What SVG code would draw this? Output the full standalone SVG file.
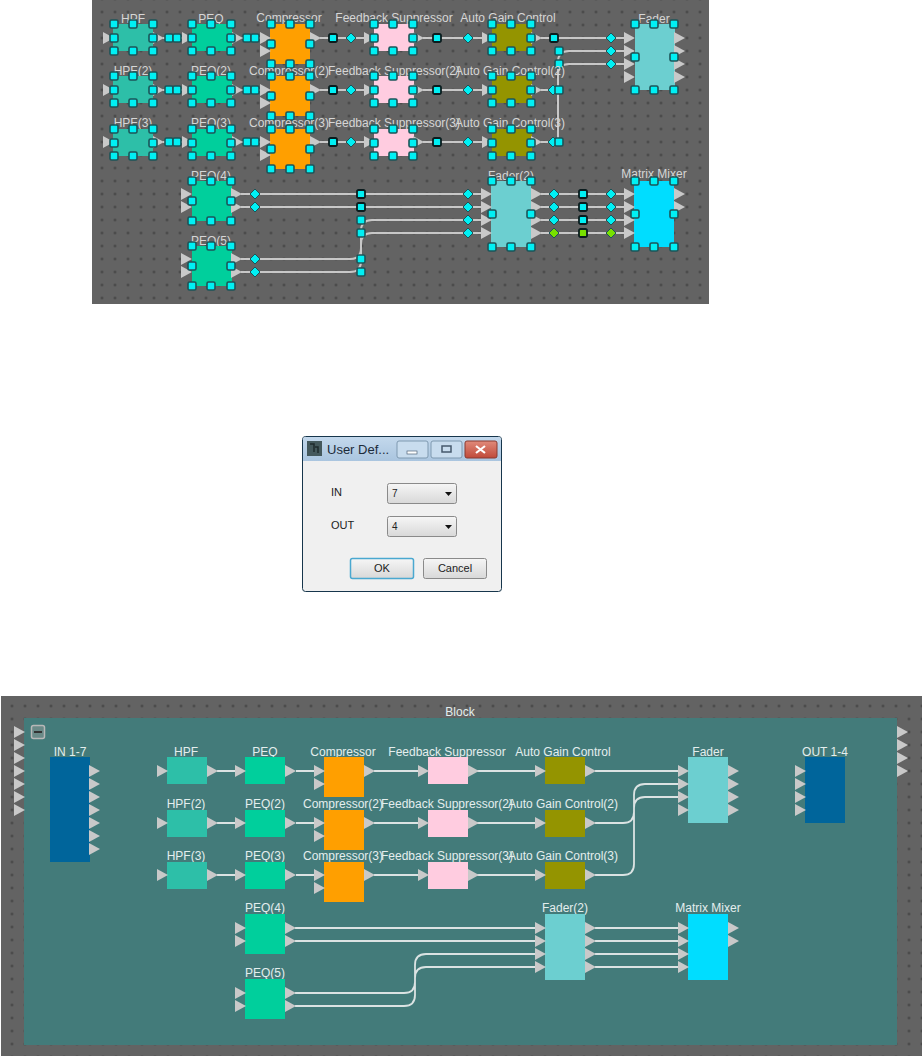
<svg xmlns="http://www.w3.org/2000/svg" width="922" height="1056" viewBox="0 0 922 1056">
<style>
text{font-family:"Liberation Sans",Arial,sans-serif}
.l{font-size:12px;text-anchor:middle}
.lt{fill:#d6d6d6}
.lb{fill:#e4eeee}
.w{fill:none;stroke:#c8c8c8;stroke-width:2}
.wb{fill:none;stroke:#dbe3e3;stroke-width:1.8}
.d{font-size:11px;fill:#222}
.hpf{fill:#2dbfa8}.peq{fill:#00cf9c}.comp{fill:#ff9f00}.fs{fill:#ffcce0}.agc{fill:#949400}.fader{fill:#6ccfd0}.mx{fill:#00ddff}.io{fill:#00659b}
</style>
<defs>
<pattern id="dots" x="4.5" y="5.5" width="13" height="13" patternUnits="userSpaceOnUse"><rect x="5.5" y="5.5" width="2" height="2" fill="#3a3a3a"/></pattern>
<pattern id="dots2" x="5.5" y="699.5" width="13" height="13" patternUnits="userSpaceOnUse"><rect x="5.5" y="5.5" width="2" height="2" fill="#3a3a3a"/></pattern>
<polygon id="p" points="0,-6 11,0 0,6" fill="#c9c9c9"/>
<rect id="h" x="-4" y="-4" width="8" height="8" rx="1.500" fill="#00f0f4" stroke="#1c5458" stroke-width="1.600"/>
<rect id="hk" x="-4" y="-4" width="8" height="8" rx="1.500" fill="#00f0f4" stroke="#0a1c1e" stroke-width="1.800"/>
<polygon id="di" points="0,-5 5,0 0,5 -5,0" fill="#00f0f4" stroke="#1c5458" stroke-width="1"/>
<rect id="hg" x="-4" y="-4" width="8" height="8" rx="1.500" fill="#78e000" stroke="#0a1c1e" stroke-width="1.800"/>
<polygon id="dg" points="0,-5 5,0 0,5 -5,0" fill="#78e000" stroke="#1c5458" stroke-width="1"/>
<g id="h27"><use href="#h" x="1"/><use href="#h" x="20"/><use href="#h" x="40"/><use href="#h" x="1" y="14"/><use href="#h" x="40" y="14"/><use href="#h" x="1" y="27"/><use href="#h" x="20" y="27"/><use href="#h" x="40" y="27"/></g>
<g id="h40"><use href="#h" x="1"/><use href="#h" x="20"/><use href="#h" x="40"/><use href="#h" x="1" y="20"/><use href="#h" x="40" y="20"/><use href="#h" x="1" y="40"/><use href="#h" x="20" y="40"/><use href="#h" x="40" y="40"/></g>
<g id="h66"><use href="#h" x="1"/><use href="#h" x="20"/><use href="#h" x="40"/><use href="#h" x="1" y="33"/><use href="#h" x="40" y="33"/><use href="#h" x="1" y="66"/><use href="#h" x="20" y="66"/><use href="#h" x="40" y="66"/></g>
<linearGradient id="tb" x1="0" y1="0" x2="0" y2="1"><stop offset="0" stop-color="#c3d8ec"/><stop offset="1" stop-color="#aac5df"/></linearGradient>
<linearGradient id="cb" x1="0" y1="0" x2="0" y2="1"><stop offset="0" stop-color="#f6f6f6"/><stop offset="1" stop-color="#d8d8d8"/></linearGradient>
<linearGradient id="rb" x1="0" y1="0" x2="0" y2="1"><stop offset="0" stop-color="#e08a7a"/><stop offset="1" stop-color="#c04a3a"/></linearGradient>
</defs>
<rect width="922" height="1056" fill="#fff"/>

<g id="top-panel"><rect x="92" y="0" width="617" height="304" fill="#636363"/><rect x="92" y="0" width="617" height="304" fill="url(#dots)"/></g>
<g id="top-connectors">
<path class="w" d="M163 38H182M242 38H260M320 38H364M423 38H482M541 38H625M163 90H182M242 90H260M320 90H364M423 90H482M541 90H559M163 142H182M242 142H260M320 142H364M423 142H482M541 142H559"/>
<path class="w" d="M558 90V62Q558 51 569 51H625M558 142V75Q558 64 569 64H625"/>
<path class="w" d="M241 194H481M241 207H481M241 259H350Q361 259 361 248V231Q361 220 372 220H481M241 272H350Q361 272 361 261V244Q361 233 372 233H481"/>
<path class="w" d="M541 194H624M541 207H624M541 220H624M541 233H624"/>
<use href="#h" x="169" y="38"/><use href="#h" x="177" y="38"/><use href="#h" x="247" y="38"/><use href="#h" x="255" y="38"/><use href="#hk" x="333" y="38"/><use href="#di" x="351" y="38"/><use href="#hk" x="437" y="38"/><use href="#di" x="468" y="38"/><use href="#hk" x="554" y="38"/>
<use href="#h" x="169" y="90"/><use href="#h" x="177" y="90"/><use href="#h" x="247" y="90"/><use href="#h" x="255" y="90"/><use href="#hk" x="333" y="90"/><use href="#di" x="351" y="90"/><use href="#hk" x="437" y="90"/><use href="#di" x="468" y="90"/><use href="#di" x="553" y="90"/><use href="#h" x="559" y="90"/>
<use href="#h" x="169" y="142"/><use href="#h" x="177" y="142"/><use href="#h" x="247" y="142"/><use href="#h" x="255" y="142"/><use href="#hk" x="333" y="142"/><use href="#di" x="351" y="142"/><use href="#hk" x="437" y="142"/><use href="#di" x="468" y="142"/><use href="#di" x="553" y="142"/><use href="#h" x="559" y="142"/>
<use href="#h" x="559" y="51"/><use href="#h" x="559" y="64"/><use href="#di" x="611" y="38"/><use href="#di" x="611" y="51"/><use href="#di" x="611" y="64"/>
<use href="#di" x="255" y="194"/><use href="#di" x="255" y="207"/><use href="#di" x="255" y="259"/><use href="#di" x="255" y="272"/>
<use href="#hk" x="361" y="194"/><use href="#hk" x="361" y="207"/><use href="#h" x="361" y="220"/><use href="#h" x="361" y="233"/><use href="#h" x="361" y="259"/><use href="#h" x="361" y="272"/>
<use href="#di" x="468" y="194"/><use href="#di" x="468" y="207"/><use href="#di" x="468" y="220"/><use href="#di" x="468" y="233"/>
<use href="#di" x="554" y="194"/><use href="#di" x="554" y="207"/><use href="#di" x="554" y="220"/><use href="#dg" x="554" y="233"/>
<use href="#hk" x="583" y="194"/><use href="#hk" x="583" y="207"/><use href="#hk" x="583" y="220"/><use href="#hg" x="583" y="233"/>
<use href="#di" x="611" y="194"/><use href="#di" x="611" y="207"/><use href="#di" x="611" y="220"/><use href="#dg" x="611" y="233"/>
</g>
<g id="t-hpf"><text class="l lt" x="133" y="23">HPF</text><rect class="hpf" x="113" y="24" width="40" height="27"/><use href="#p" x="103" y="38"/><use href="#p" x="153" y="38"/><use href="#h27" x="113" y="24"/></g>
<g id="t-peq"><text class="l lt" x="211" y="23">PEQ</text><rect class="peq" x="192" y="24" width="40" height="27"/><use href="#p" x="182" y="38"/><use href="#p" x="232" y="38"/><use href="#h27" x="191" y="24"/></g>
<g id="t-comp"><text class="l lt" x="289" y="22">Compressor</text><rect class="comp" x="270" y="24" width="40" height="40"/><use href="#p" x="260" y="38"/><use href="#p" x="260" y="51"/><use href="#p" x="310" y="38"/><use href="#h40" x="270" y="24"/></g>
<g id="t-fs"><text class="l lt" x="394" y="22">Feedback Suppressor</text><rect class="fs" x="374" y="24" width="40" height="27"/><use href="#p" x="364" y="38"/><use href="#p" x="413" y="38"/><use href="#h27" x="373" y="24"/></g>
<g id="t-agc"><text class="l lt" x="508" y="22">Auto Gain Control</text><rect class="agc" x="492" y="24" width="40" height="27"/><use href="#p" x="482" y="38"/><use href="#p" x="531" y="38"/><use href="#h27" x="491" y="24"/></g>
<g id="t-fader"><text class="l lt" x="654" y="23">Fader</text><rect class="fader" x="635" y="24" width="40" height="66"/><use href="#p" x="624" y="38"/><use href="#p" x="624" y="51"/><use href="#p" x="624" y="64"/><use href="#p" x="624" y="77"/><use href="#p" x="674" y="38"/><use href="#p" x="674" y="51"/><use href="#p" x="674" y="64"/><use href="#p" x="674" y="77"/><use href="#h66" x="634" y="24"/></g>

<g id="t-hpf2"><text class="l lt" x="133" y="75">HPF(2)</text><rect class="hpf" x="113" y="76" width="40" height="27"/><use href="#p" x="103" y="90"/><use href="#p" x="153" y="90"/><use href="#h27" x="113" y="76"/></g>
<g id="t-peq2"><text class="l lt" x="211" y="75">PEQ(2)</text><rect class="peq" x="192" y="76" width="40" height="27"/><use href="#p" x="182" y="90"/><use href="#p" x="232" y="90"/><use href="#h27" x="191" y="76"/></g>
<g id="t-comp2"><rect class="comp" x="270" y="76" width="40" height="40"/><text class="l lt" x="289" y="75">Compressor(2)</text><use href="#p" x="260" y="90"/><use href="#p" x="260" y="103"/><use href="#p" x="310" y="90"/><use href="#h40" x="270" y="76"/></g>
<g id="t-fs2"><text class="l lt" x="394" y="75">Feedback Suppressor(2)</text><rect class="fs" x="374" y="76" width="40" height="27"/><use href="#p" x="364" y="90"/><use href="#p" x="413" y="90"/><use href="#h27" x="373" y="76"/></g>
<g id="t-agc2"><text class="l lt" x="510" y="75">Auto Gain Control(2)</text><rect class="agc" x="492" y="76" width="40" height="27"/><use href="#p" x="482" y="90"/><use href="#p" x="531" y="90"/><use href="#h27" x="491" y="76"/></g>

<g id="t-hpf3"><text class="l lt" x="133" y="127">HPF(3)</text><rect class="hpf" x="113" y="129" width="40" height="27"/><use href="#p" x="103" y="142"/><use href="#p" x="153" y="142"/><use href="#h27" x="113" y="129"/></g>
<g id="t-peq3"><text class="l lt" x="211" y="127">PEQ(3)</text><rect class="peq" x="192" y="129" width="40" height="27"/><use href="#p" x="182" y="142"/><use href="#p" x="232" y="142"/><use href="#h27" x="191" y="129"/></g>
<g id="t-comp3"><rect class="comp" x="270" y="129" width="40" height="40"/><text class="l lt" x="289" y="127">Compressor(3)</text><use href="#p" x="260" y="142"/><use href="#p" x="260" y="155"/><use href="#p" x="310" y="142"/><use href="#h40" x="270" y="129"/></g>
<g id="t-fs3"><text class="l lt" x="394" y="127">Feedback Suppressor(3)</text><rect class="fs" x="374" y="129" width="40" height="27"/><use href="#p" x="364" y="142"/><use href="#p" x="413" y="142"/><use href="#h27" x="373" y="129"/></g>
<g id="t-agc3"><text class="l lt" x="510" y="127">Auto Gain Control(3)</text><rect class="agc" x="492" y="129" width="40" height="27"/><use href="#p" x="482" y="142"/><use href="#p" x="531" y="142"/><use href="#h27" x="491" y="129"/></g>

<g id="t-peq4"><text class="l lt" x="211" y="180">PEQ(4)</text><rect class="peq" x="192" y="181" width="40" height="40"/><use href="#p" x="181" y="194"/><use href="#p" x="181" y="207"/><use href="#p" x="231" y="194"/><use href="#p" x="231" y="207"/><use href="#h40" x="191" y="181"/></g>
<g id="t-peq5"><text class="l lt" x="211" y="245">PEQ(5)</text><rect class="peq" x="192" y="246" width="40" height="40"/><use href="#p" x="181" y="259"/><use href="#p" x="181" y="272"/><use href="#p" x="231" y="259"/><use href="#p" x="231" y="272"/><use href="#h40" x="191" y="246"/></g>
<g id="t-fader2"><text class="l lt" x="511" y="180">Fader(2)</text><rect class="fader" x="491" y="181" width="40" height="66"/><use href="#p" x="481" y="194"/><use href="#p" x="481" y="207"/><use href="#p" x="481" y="220"/><use href="#p" x="481" y="233"/><use href="#p" x="531" y="194"/><use href="#p" x="531" y="207"/><use href="#p" x="531" y="220"/><use href="#p" x="531" y="233"/><use href="#h66" x="491" y="181"/></g>
<g id="t-matrix"><text class="l lt" x="654" y="178">Matrix Mixer</text><rect class="mx" x="634" y="181" width="40" height="66"/><use href="#p" x="624" y="194"/><use href="#p" x="624" y="207"/><use href="#p" x="624" y="220"/><use href="#p" x="624" y="233"/><use href="#p" x="674" y="194"/><use href="#p" x="674" y="207"/><use href="#h66" x="634" y="181"/></g>

<g id="dialog">
<rect x="302.500" y="436.500" width="199" height="155" rx="3" fill="#f0f0f0" stroke="#17364c"/>
<path d="M303 461V439Q303 437 305 437H499Q501 437 501 439V461Z" fill="url(#tb)"/>
<rect x="307" y="441" width="15" height="15" fill="#44585c"/>
<path d="M310 444h4v8M315 447h3v6" fill="none" stroke="#1e2a2c" stroke-width="1.500"/>
<text x="327" y="454" font-size="13" fill="#1c2b3a">User Def...</text>
<rect x="397" y="441" width="31" height="17" rx="2" fill="#c8dcee" stroke="#7f99b0"/><rect x="407" y="451" width="10" height="3" fill="#fff" stroke="#50647a" stroke-width=".7"/>
<rect x="431" y="441" width="31" height="17" rx="2" fill="#c8dcee" stroke="#7f99b0"/><rect x="442" y="446" width="9" height="6" fill="none" stroke="#45586c" stroke-width="1.500"/>
<rect x="465" y="441" width="32" height="17" rx="2" fill="url(#rb)" stroke="#8a3a30"/><path d="M476 446l9 7M485 446l-9 7" stroke="#fff" stroke-width="2.200"/>
<text class="d" x="331" y="496">IN</text>
<text class="d" x="331" y="529">OUT</text>
<rect x="387.500" y="483.500" width="69" height="20" rx="2" fill="url(#cb)" stroke="#8a8a8a"/><text x="392" y="497" font-size="10" fill="#222">7</text><path d="M445 492h7l-3.500 4z" fill="#111"/>
<rect x="387.500" y="516.500" width="69" height="20" rx="2" fill="url(#cb)" stroke="#8a8a8a"/><text x="392" y="530" font-size="10" fill="#222">4</text><path d="M445 525h7l-3.500 4z" fill="#111"/>
<rect x="350.500" y="558.500" width="63" height="20" rx="2" fill="url(#cb)" stroke="#4aa8d0" stroke-width="1.500"/><text x="382" y="572" font-size="11" fill="#222" text-anchor="middle">OK</text>
<rect x="423.500" y="558.500" width="63" height="20" rx="2" fill="url(#cb)" stroke="#8a8a8a"/><text x="455" y="572" font-size="11" fill="#222" text-anchor="middle">Cancel</text>
</g>

<g id="block">
<rect x="1" y="696" width="921" height="360" fill="#636363"/><rect x="1" y="696" width="921" height="360" fill="url(#dots2)"/>
<rect x="24" y="718" width="873" height="327" fill="#437b7a"/>
<text class="l lb" x="460" y="716">Block</text>
<rect x="31.500" y="725.500" width="13" height="13" rx="2" fill="#6a8a88" stroke="#b8b8b8" stroke-width="1.500"/><rect x="34" y="731" width="8" height="2" fill="#333"/>
<use href="#p" x="14" y="732"/><use href="#p" x="14" y="745"/><use href="#p" x="14" y="758"/><use href="#p" x="14" y="771"/><use href="#p" x="14" y="784"/><use href="#p" x="14" y="797"/><use href="#p" x="14" y="810"/>
<use href="#p" x="897" y="732"/><use href="#p" x="897" y="745"/><use href="#p" x="897" y="758"/><use href="#p" x="897" y="771"/>
</g>
<g id="block-connectors">
<path class="wb" d="M217 771H236M296 771H314M374 771H418M477 771H535M595 771H678M217 823H236M296 823H314M374 823H418M477 823H535M217 875H236M296 875H314M374 875H418M477 875H535"/>
<path class="wb" d="M595 823H623Q634 823 634 812V795Q634 784 645 784H678M595 875H623Q634 875 634 864V808Q634 797 645 797H678"/>
<path class="wb" d="M295 928H535M295 941H535M295 993H404Q415 993 415 982V965Q415 954 426 954H535M295 1006H404Q415 1006 415 995V978Q415 967 426 967H535"/>
<path class="wb" d="M595 928H678M595 941H678M595 954H678M595 967H678"/>
</g>
<g id="b-in"><text class="l lb" x="70" y="756">IN 1-7</text><rect class="io" x="50" y="757" width="40" height="105"/><use href="#p" x="89" y="771"/><use href="#p" x="89" y="784"/><use href="#p" x="89" y="797"/><use href="#p" x="89" y="810"/><use href="#p" x="89" y="823"/><use href="#p" x="89" y="836"/><use href="#p" x="89" y="849"/></g>
<g id="b-out"><text class="l lb" x="825" y="756">OUT 1-4</text><rect class="io" x="805" y="757" width="40" height="66"/><use href="#p" x="795" y="771"/><use href="#p" x="795" y="784"/><use href="#p" x="795" y="797"/><use href="#p" x="795" y="810"/></g>
<g id="b-hpf"><text class="l lb" x="186" y="756">HPF</text><rect class="hpf" x="167" y="757" width="40" height="27"/><use href="#p" x="157" y="771"/><use href="#p" x="207" y="771"/></g>
<g id="b-peq"><text class="l lb" x="265" y="756">PEQ</text><rect class="peq" x="245" y="757" width="40" height="27"/><use href="#p" x="235" y="771"/><use href="#p" x="285" y="771"/></g>
<g id="b-comp"><text class="l lb" x="343" y="756">Compressor</text><rect class="comp" x="324" y="757" width="40" height="40"/><use href="#p" x="314" y="771"/><use href="#p" x="314" y="784"/><use href="#p" x="364" y="771"/></g>
<g id="b-fs"><text class="l lb" x="447" y="756">Feedback Suppressor</text><rect class="fs" x="428" y="757" width="40" height="27"/><use href="#p" x="418" y="771"/><use href="#p" x="468" y="771"/></g>
<g id="b-agc"><text class="l lb" x="563" y="756">Auto Gain Control</text><rect class="agc" x="545" y="757" width="40" height="27"/><use href="#p" x="535" y="771"/><use href="#p" x="585" y="771"/></g>
<g id="b-fader"><text class="l lb" x="708" y="756">Fader</text><rect class="fader" x="688" y="757" width="40" height="66"/><use href="#p" x="678" y="771"/><use href="#p" x="678" y="784"/><use href="#p" x="678" y="797"/><use href="#p" x="678" y="810"/><use href="#p" x="728" y="771"/><use href="#p" x="728" y="784"/><use href="#p" x="728" y="797"/><use href="#p" x="728" y="810"/></g>

<g id="b-hpf2"><text class="l lb" x="186" y="808">HPF(2)</text><rect class="hpf" x="167" y="810" width="40" height="27"/><use href="#p" x="157" y="823"/><use href="#p" x="207" y="823"/></g>
<g id="b-peq2"><text class="l lb" x="265" y="808">PEQ(2)</text><rect class="peq" x="245" y="810" width="40" height="27"/><use href="#p" x="235" y="823"/><use href="#p" x="285" y="823"/></g>
<g id="b-comp2"><text class="l lb" x="343" y="808">Compressor(2)</text><rect class="comp" x="324" y="810" width="40" height="40"/><use href="#p" x="314" y="823"/><use href="#p" x="314" y="836"/><use href="#p" x="364" y="823"/></g>
<g id="b-fs2"><text class="l lb" x="447" y="808">Feedback Suppressor(2)</text><rect class="fs" x="428" y="810" width="40" height="27"/><use href="#p" x="418" y="823"/><use href="#p" x="468" y="823"/></g>
<g id="b-agc2"><text class="l lb" x="563" y="808">Auto Gain Control(2)</text><rect class="agc" x="545" y="810" width="40" height="27"/><use href="#p" x="535" y="823"/><use href="#p" x="585" y="823"/></g>

<g id="b-hpf3"><text class="l lb" x="186" y="860">HPF(3)</text><rect class="hpf" x="167" y="862" width="40" height="27"/><use href="#p" x="157" y="875"/><use href="#p" x="207" y="875"/></g>
<g id="b-peq3"><text class="l lb" x="265" y="860">PEQ(3)</text><rect class="peq" x="245" y="862" width="40" height="27"/><use href="#p" x="235" y="875"/><use href="#p" x="285" y="875"/></g>
<g id="b-comp3"><text class="l lb" x="343" y="860">Compressor(3)</text><rect class="comp" x="324" y="862" width="40" height="40"/><use href="#p" x="314" y="875"/><use href="#p" x="314" y="888"/><use href="#p" x="364" y="875"/></g>
<g id="b-fs3"><text class="l lb" x="447" y="860">Feedback Suppressor(3)</text><rect class="fs" x="428" y="862" width="40" height="27"/><use href="#p" x="418" y="875"/><use href="#p" x="468" y="875"/></g>
<g id="b-agc3"><text class="l lb" x="563" y="860">Auto Gain Control(3)</text><rect class="agc" x="545" y="862" width="40" height="27"/><use href="#p" x="535" y="875"/><use href="#p" x="585" y="875"/></g>

<g id="b-peq4"><text class="l lb" x="265" y="912">PEQ(4)</text><rect class="peq" x="245" y="914" width="40" height="40"/><use href="#p" x="235" y="928"/><use href="#p" x="235" y="941"/><use href="#p" x="285" y="928"/><use href="#p" x="285" y="941"/></g>
<g id="b-peq5"><text class="l lb" x="265" y="977">PEQ(5)</text><rect class="peq" x="245" y="979" width="40" height="40"/><use href="#p" x="235" y="993"/><use href="#p" x="235" y="1006"/><use href="#p" x="285" y="993"/><use href="#p" x="285" y="1006"/></g>
<g id="b-fader2"><text class="l lb" x="565" y="912">Fader(2)</text><rect class="fader" x="545" y="914" width="40" height="66"/><use href="#p" x="535" y="928"/><use href="#p" x="535" y="941"/><use href="#p" x="535" y="954"/><use href="#p" x="535" y="967"/><use href="#p" x="585" y="928"/><use href="#p" x="585" y="941"/><use href="#p" x="585" y="954"/><use href="#p" x="585" y="967"/></g>
<g id="b-matrix"><text class="l lb" x="708" y="912">Matrix Mixer</text><rect class="mx" x="688" y="914" width="40" height="66"/><use href="#p" x="678" y="928"/><use href="#p" x="678" y="941"/><use href="#p" x="678" y="954"/><use href="#p" x="678" y="967"/><use href="#p" x="728" y="928"/><use href="#p" x="728" y="941"/></g>
</svg>
